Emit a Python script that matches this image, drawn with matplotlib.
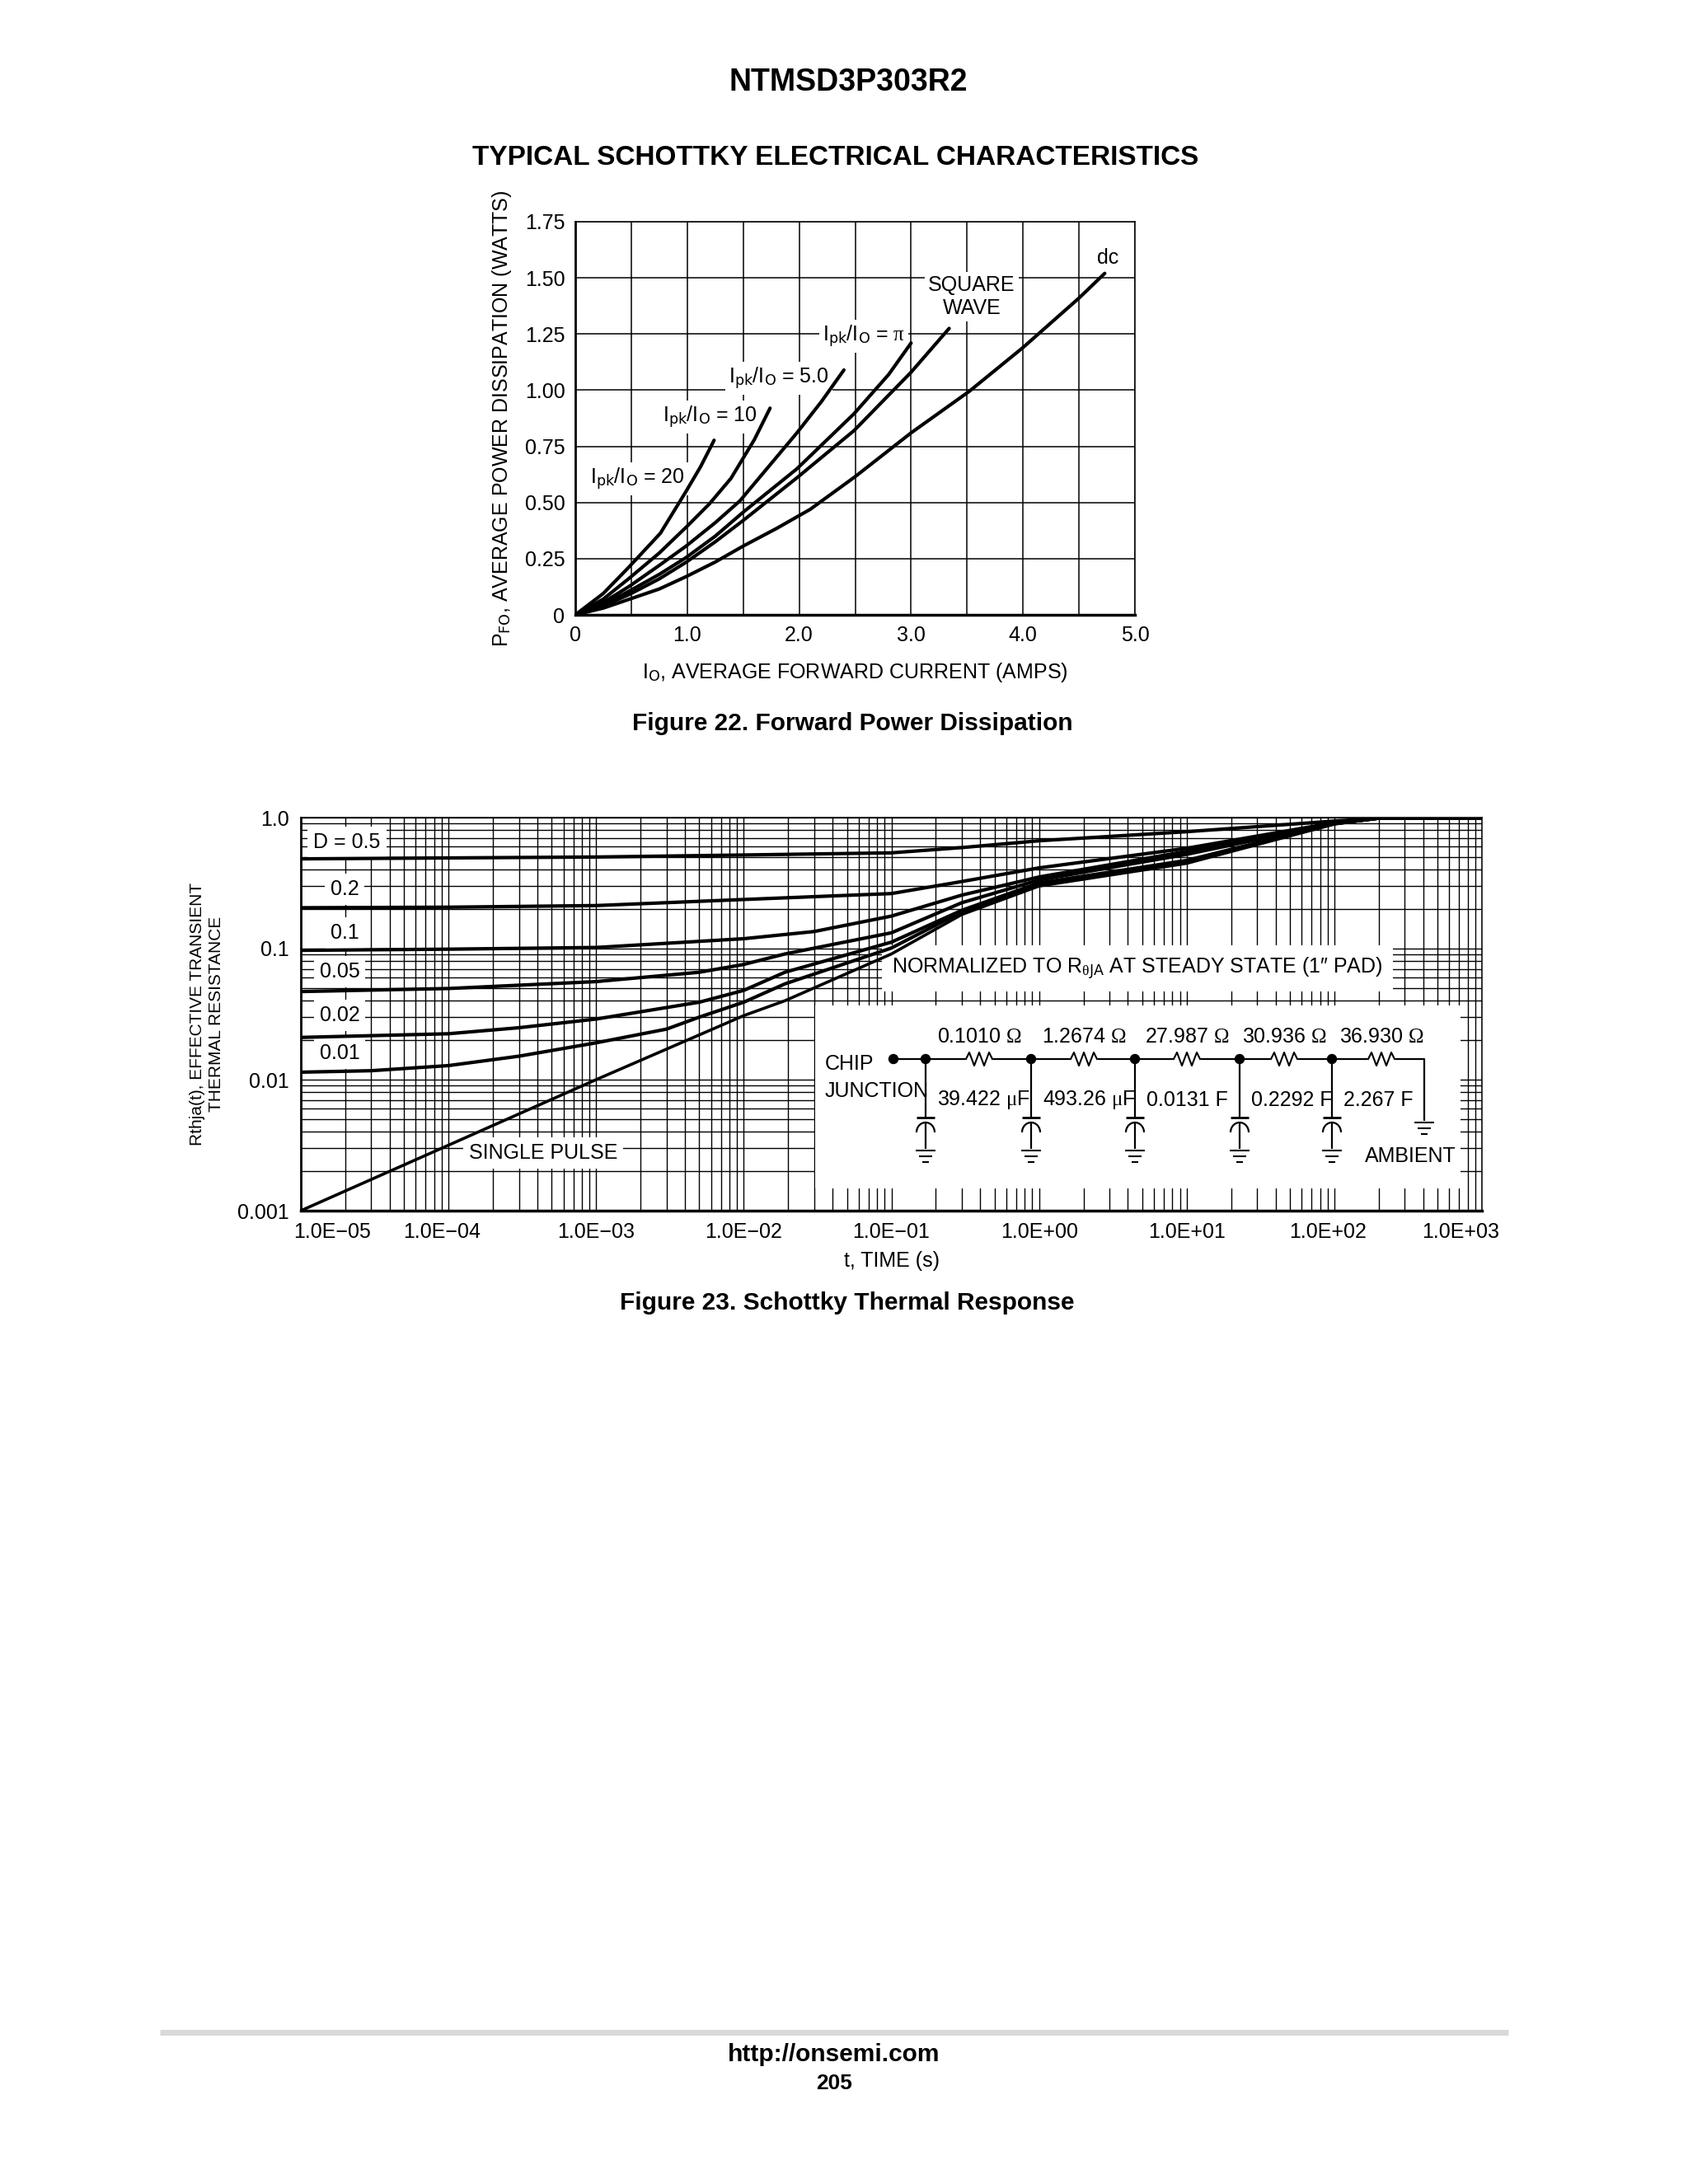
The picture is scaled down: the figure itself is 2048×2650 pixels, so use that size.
import matplotlib
matplotlib.use("Agg")
import matplotlib.pyplot as plt
from matplotlib.patches import Rectangle, Arc, Circle
from matplotlib.ticker import FixedLocator, NullFormatter
from matplotlib.transforms import ScaledTranslation

W, H = 2048, 2650
NARROW = "Liberation Sans Narrow"
ARIAL = "Liberation Sans"

plt.rcParams["font.family"] = [NARROW, ARIAL, "DejaVu Sans"]
plt.rcParams["mathtext.fontset"] = "custom"
plt.rcParams["mathtext.rm"] = NARROW
plt.rcParams["mathtext.it"] = "Liberation Serif"
plt.rcParams["mathtext.tt"] = "Liberation Serif"

# Figure 22 curves, amps / watts
i_dc = [0, 0.25, 0.48, 0.75, 0.99, 1.25, 1.5, 1.8, 2.1, 2.5, 3.0, 3.52, 4.0, 4.5, 4.73]
p_dc = [0, 0.03, 0.069, 0.115, 0.17, 0.235, 0.306, 0.385, 0.47, 0.615, 0.81, 0.995, 1.19, 1.41, 1.52]
i_sq = [0, 0.25, 0.48, 0.75, 0.99, 1.25, 1.5, 1.98, 2.49, 3.0, 3.34]
p_sq = [0, 0.04, 0.09, 0.16, 0.234, 0.325, 0.42, 0.61, 0.82, 1.08, 1.275]
i_pi = [0, 0.25, 0.48, 0.75, 0.99, 1.25, 1.5, 1.98, 2.49, 2.8, 3.0]
p_pi = [0, 0.045, 0.105, 0.18, 0.255, 0.35, 0.457, 0.65, 0.895, 1.07, 1.21]
i_5 = [0, 0.25, 0.48, 0.75, 0.99, 1.25, 1.47, 1.98, 2.2, 2.4]
p_5 = [0, 0.055, 0.126, 0.22, 0.306, 0.41, 0.507, 0.81, 0.95, 1.09]
i_10 = [0, 0.25, 0.48, 0.75, 0.99, 1.2, 1.39, 1.6, 1.74]
p_10 = [0, 0.07, 0.162, 0.275, 0.39, 0.495, 0.607, 0.78, 0.92]
i_20 = [0, 0.25, 0.48, 0.76, 0.99, 1.12, 1.24]
p_20 = [0, 0.095, 0.213, 0.363, 0.55, 0.66, 0.777]

# Figure 23 curves, seconds / normalized resistance
t_05 = [1e-5, 1e-3, 1e-2, 1e-1, 3e-1, 1, 10, 100, 200, 1000]
r_05 = [0.484, 0.50, 0.518, 0.538, 0.59, 0.665, 0.78, 0.94, 0.99, 0.99]
t_02 = [1e-5, 1e-4, 1e-3, 1e-2, 1e-1, 3e-1, 1, 10, 100, 200, 1000]
r_02 = [0.205, 0.207, 0.213, 0.237, 0.263, 0.325, 0.413, 0.583, 0.914, 0.99, 0.99]
t_01 = [1e-5, 1e-4, 1e-3, 1e-2, 3e-2, 1e-1, 3e-1, 1, 10, 100, 200, 1000]
r_01 = [0.097, 0.099, 0.102, 0.119, 0.135, 0.177, 0.256, 0.352, 0.552, 0.90, 0.99, 0.99]
t_005 = [1e-5, 1e-4, 1e-3, 5e-3, 1e-2, 1.9e-2, 1e-1, 3e-1, 1, 10, 100, 200, 1000]
r_005 = [0.047, 0.0496, 0.056, 0.066, 0.0757, 0.091, 0.132, 0.224, 0.334, 0.524, 0.90, 0.99, 0.99]
t_002 = [1e-5, 1e-4, 3e-4, 1e-3, 5e-3, 1e-2, 1.9e-2, 1e-1, 3e-1, 1, 10, 100, 200, 1000]
r_002 = [0.021, 0.0224, 0.0249, 0.029, 0.039, 0.048, 0.066, 0.112, 0.196, 0.317, 0.471, 0.90, 0.99, 0.99]
t_001 = [1e-5, 3e-5, 1e-4, 3e-4, 1e-3, 3e-3, 5e-3, 1e-2, 1.9e-2, 1e-1, 3e-1, 1, 10, 100, 200, 1000]
r_001 = [0.0114, 0.0117, 0.0128, 0.0151, 0.0191, 0.0243, 0.03, 0.039, 0.0538, 0.101, 0.191, 0.309, 0.459, 0.90, 0.99, 0.99]
t_single = [1e-5, 1e-4, 1e-3, 1e-2, 1.9e-2, 1e-1, 3e-1, 1, 10, 100, 200, 1000]
r_single = [0.001, 0.00316, 0.01, 0.0308, 0.04, 0.091, 0.182, 0.30, 0.447, 0.89, 0.99, 0.99]

x22_ticks = [0, 1, 2, 3, 4, 5]
x22_labels = ["0", "1.0", "2.0", "3.0", "4.0", "5.0"]
y22_ticks = [0, 0.25, 0.5, 0.75, 1.0, 1.25, 1.5, 1.75]
y22_labels = ["0", "0.25", "0.50", "0.75", "1.00", "1.25", "1.50", "1.75"]

x23_ticks = [1e-5, 1e-4, 1e-3, 1e-2, 1e-1, 1e0, 1e1, 1e2, 1e3]
x23_labels = ["1.0E\u221205", "1.0E\u221204", "1.0E\u221203", "1.0E\u221202", "1.0E\u221201",
              "1.0E+00", "1.0E+01", "1.0E+02", "1.0E+03"]
x23_shift = [38, -8, 0, 0, 0, 0, 0, -8, -26]
y23_ticks = [0.001, 0.01, 0.1, 1.0]
y23_labels = ["0.001", "0.01", "0.1", "1.0"]

res_labels = ["0.1010 $\\mathtt{\\Omega}$", "1.2674 $\\mathtt{\\Omega}$", "27.987 $\\mathtt{\\Omega}$",
              "30.936 $\\mathtt{\\Omega}$", "36.930 $\\mathtt{\\Omega}$"]
cap_labels = ["39.422 $\\mu$F", "493.26 $\\mu$F", "0.0131 F", "0.2292 F", "2.267 F"]


def px_axes(left, top, right, bottom):
    return fig.add_axes([left / W, 1 - bottom / H, (right - left) / W, (bottom - top) / H])


fig = plt.figure(figsize=(W / 100, H / 100), dpi=100)

# whole page in pixels, for headings and the circuit
page = fig.add_axes([0, 0, 1, 1], zorder=5)
page.set_xlim(0, W)
page.set_ylim(H, 0)
page.axis("off")
page.patch.set_alpha(0)


def bold(x, y, s, size):
    page.text(x, y, s, family=ARIAL, weight="bold", fontsize=size, ha="center", va="center")


bold(1029, 100, "NTMSD3P303R2", 27)
bold(1014, 192, "TYPICAL SCHOTTKY ELECTRICAL CHARACTERISTICS", 24)
bold(1034, 878, "Figure 22. Forward Power Dissipation", 21.5)
bold(1028, 1581, "Figure 23. Schottky Thermal Response", 21.5)
bold(1012, 2493, "http://onsemi.com", 21.5)
bold(1012, 2528, "205", 19)
page.plot([194, 1830], [2466, 2466], color="#d9d9dc", lw=5, solid_capstyle="butt")

# Figure 22
ax1 = px_axes(698, 269, 1377, 746)
for x, y in [(i_dc, p_dc), (i_sq, p_sq), (i_pi, p_pi), (i_5, p_5), (i_10, p_10), (i_20, p_20)]:
    ax1.plot(x, y, color="black", lw=3.0, zorder=3, solid_capstyle="round", solid_joinstyle="round")
ax1.set_xlim(0, 5)
ax1.set_ylim(0, 1.75)
ax1.set_xticks(x22_ticks)
ax1.set_xticklabels(x22_labels, fontsize=18)
ax1.set_yticks(y22_ticks)
ax1.set_yticklabels(y22_labels, fontsize=18)
ax1.xaxis.set_minor_locator(FixedLocator([0.5, 1.5, 2.5, 3.5, 4.5]))
ax1.tick_params(which="both", length=0, pad=9)
ax1.grid(True, which="both", color="black", lw=1.1, zorder=1)
ax1.set_axisbelow(True)
ax1.spines["left"].set_linewidth(2)
ax1.spines["bottom"].set_linewidth(2.5)
ax1.spines["top"].set_linewidth(1.1)
ax1.spines["right"].set_linewidth(1.1)
ax1.set_xlabel("I$_{\\mathrm{O}}$, AVERAGE FORWARD CURRENT (AMPS)", fontsize=18, labelpad=14)
ax1.set_ylabel("P$_{\\mathrm{FO}}$, AVERAGE POWER DISSIPATION (WATTS)", fontsize=18, labelpad=10)


def label(ax, x, y, s, size=18, pad=3):
    ax.text(x, y, s, transform=page.transData, fontsize=size, ha="center", va="center", zorder=2.5,
            bbox=dict(facecolor="white", edgecolor="none", pad=pad))


label(ax1, 773, 581, "I$_{\\mathrm{pk}}$/I$_{\\mathrm{O}}$ = 20")
label(ax1, 861, 506, "I$_{\\mathrm{pk}}$/I$_{\\mathrm{O}}$ = 10")
label(ax1, 945, 459, "I$_{\\mathrm{pk}}$/I$_{\\mathrm{O}}$ = 5.0")
label(ax1, 1048, 408, "I$_{\\mathrm{pk}}$/I$_{\\mathrm{O}}$ = $\\pi$")
label(ax1, 1179, 360, "SQUARE\nWAVE")
label(ax1, 1344, 313, "dc")

# Figure 23
ax2 = px_axes(365, 992, 1798, 1469)
for x, y in [(t_05, r_05), (t_02, r_02), (t_01, r_01), (t_005, r_005), (t_002, r_002), (t_001, r_001)]:
    ax2.plot(x, y, color="black", lw=3.0, zorder=3, solid_joinstyle="round")
ax2.plot(t_single, r_single, color="black", lw=2.6, zorder=3, solid_joinstyle="round")
ax2.set_xscale("log")
ax2.set_yscale("log")
ax2.set_xlim(1e-5, 1e3)
ax2.set_ylim(0.001, 1.0)
ax2.xaxis.set_major_locator(FixedLocator(x23_ticks))
ax2.set_xticklabels(x23_labels, fontsize=18)
ax2.yaxis.set_major_locator(FixedLocator(y23_ticks))
ax2.set_yticklabels(y23_labels, fontsize=18)
x_minor = [m * d for d in x23_ticks[:-1] for m in range(2, 10)]
y_minor = [m * d for d in y23_ticks[:-1] for m in range(2, 10)]
ax2.xaxis.set_minor_locator(FixedLocator(x_minor))
ax2.yaxis.set_minor_locator(FixedLocator(y_minor))
ax2.xaxis.set_minor_formatter(NullFormatter())
ax2.yaxis.set_minor_formatter(NullFormatter())
ax2.tick_params(which="both", length=0, pad=10)
ax2.grid(True, which="both", color="black", lw=1.0, zorder=1)
ax2.set_axisbelow(True)
ax2.spines["left"].set_linewidth(2)
ax2.spines["bottom"].set_linewidth(2.5)
ax2.spines["top"].set_linewidth(1.1)
ax2.spines["right"].set_linewidth(1.1)
for lab, dx in zip(ax2.get_xticklabels(), x23_shift):
    lab.set_transform(lab.get_transform() + ScaledTranslation(dx / 100, 0, fig.dpi_scale_trans))
ax2.set_xlabel("t, TIME (s)", fontsize=18, labelpad=8)
ax2.set_ylabel("Rthja(t), EFFECTIVE TRANSIENT\nTHERMAL RESISTANCE", family=ARIAL, fontsize=15, labelpad=12,
               linespacing=1.25)

label(ax2, 421, 1022, "D = 0.5", pad=5)
label(ax2, 418, 1079, "0.2", pad=5)
label(ax2, 418, 1132, "0.1", pad=5)
label(ax2, 412, 1179, "0.05", pad=5)
label(ax2, 412, 1232, "0.02", pad=5)
label(ax2, 412, 1278, "0.01", pad=5)
label(ax2, 659, 1399, "SINGLE PULSE", pad=5)
label(ax2, 1380, 1175, "NORMALIZED TO R$_{\\theta\\mathrm{JA}}$ AT STEADY STATE (1\u2033 PAD)", pad=9)

# circuit inset
page.add_patch(Rectangle((989, 1220), 783, 222, facecolor="white", edgecolor="none", zorder=1))


def wire(xs, ys, lw=1.6):
    page.plot(xs, ys, color="black", lw=lw, solid_capstyle="butt", zorder=2)


def ground(x, y):
    for i, half in enumerate([12, 8, 4]):
        wire([x - half, x + half], [y + i * 7, y + i * 7], 1.5)


y_bus = 1285
nodes = [1123, 1251, 1377, 1504, 1616]
res_x = [1188, 1315, 1440, 1558, 1676]
end_x = 1728
zig_dx = [-16, -12, -6, 0, 6, 12, 16]
zig_dy = [0, -8, 8, -8, 8, -8, 0]

wire([1084, end_x, end_x], [y_bus, y_bus, 1360])
ground(end_x, 1362)
for x in res_x:
    page.add_patch(Rectangle((x - 17, y_bus - 4), 34, 8, facecolor="white", edgecolor="none", zorder=2))
    page.plot([x + d for d in zig_dx], [y_bus + d for d in zig_dy], color="black", lw=1.5, zorder=3)
page.add_patch(Circle((1084, y_bus), 5.5, color="black", zorder=3))
for x in nodes:
    page.add_patch(Circle((x, y_bus), 5.5, color="black", zorder=3))
    wire([x, x], [y_bus, 1356])
    wire([x - 11, x + 11], [1356, 1356], 2)
    page.add_patch(Arc((x, 1374), 22, 24, theta1=180, theta2=360, color="black", lw=1.6, zorder=2))
    wire([x, x], [1362, 1394])
    ground(x, 1396)


def note(x, y, s, size=18, ha="center"):
    page.text(x, y, s, fontsize=size, ha=ha, va="center", zorder=4)


for x, s in zip(res_x, res_labels):
    note(x, 1258, s)
for x, s in zip(nodes, cap_labels):
    note(x + 14, 1335, s, ha="left")
note(1001, 1291, "CHIP", ha="left")
note(1001, 1324, "JUNCTION", ha="left")
note(1711, 1403, "AMBIENT")

fig.savefig("out.png", dpi=100, facecolor="white")
